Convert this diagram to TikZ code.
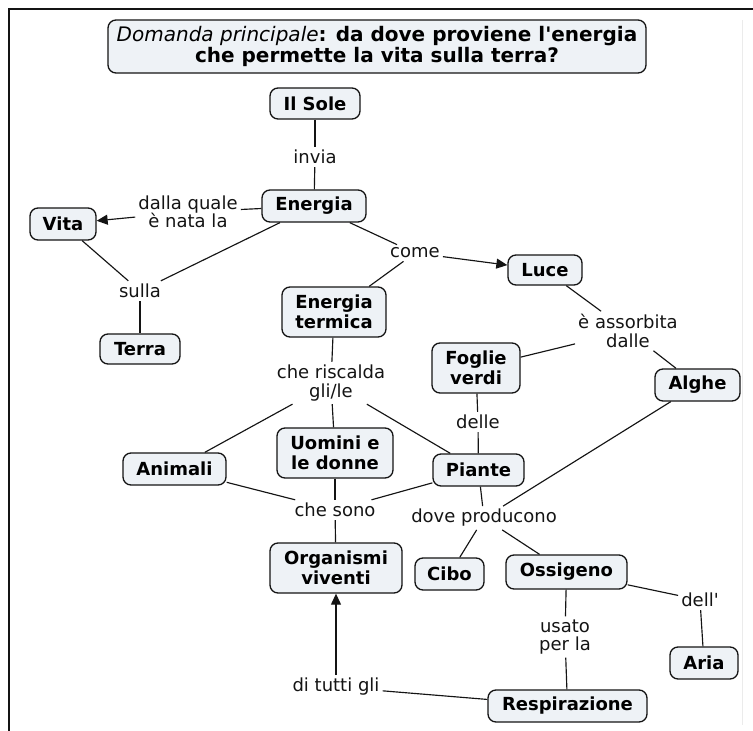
\documentclass[tikz,border=0pt]{standalone}
\usepackage{fontspec}
\newfontfamily\dv{DejaVu Sans}
\usetikzlibrary{arrows.meta}
\definecolor{boxfill}{RGB}{238,242,246}
\definecolor{ink}{RGB}{20,20,20}

\begin{document}
\begin{tikzpicture}[x=1pt,y=-1pt,
  concept/.style={draw=ink, fill=boxfill, rounded corners=8pt, line width=1.3pt,
    align=center, inner sep=0pt, text=black,
    font=\dv\bfseries\fontsize{18}{20}\selectfont},
  link/.style={align=center, inner sep=3pt, text=ink,
    font=\dv\fontsize{18}{18.5}\selectfont},
  conn/.style={draw=ink, line width=1.15pt},
  arr/.style={conn, -{Triangle[length=11pt,width=10pt]}},
]
\useasboundingbox (0,0) rectangle (753,731);

% page frame
\draw[ink, line width=2.5pt] (9,731) -- (9,9) -- (753,9);
\draw[black!8, line width=0.8pt] (742,20) -- (742,725);

% main question
\node[concept, minimum width=538pt, minimum height=53pt,
      font=\dv\bfseries\fontsize{20}{20.5}\selectfont] (title) at (377,46.5)
  {{\mdseries\itshape Domanda principale}: da dove proviene l'energia\\che permette la vita sulla terra?};

% concepts
\node[concept, minimum width=90pt,  minimum height=31pt] (sole)         at (315,103.5) {Il Sole};
\node[concept, minimum width=104pt, minimum height=32pt] (energia)      at (314,206)   {Energia};
\node[concept, minimum width=66pt,  minimum height=32pt] (vita)         at (63,224)    {Vita};
\node[concept, minimum width=80pt,  minimum height=30pt] (terra)        at (140,349)   {Terra};
\node[concept, minimum width=74pt,  minimum height=30pt] (luce)         at (545,270)   {Luce};
\node[concept, minimum width=104pt, minimum height=50pt] (etermica)     at (334,312)   {Energia\\termica};
\node[concept, minimum width=88pt,  minimum height=50pt] (foglie)       at (476,368)   {Foglie\\verdi};
\node[concept, minimum width=85pt,  minimum height=32pt] (alghe)        at (697.5,385) {Alghe};
\node[concept, minimum width=103pt, minimum height=32pt] (animali)      at (174.5,469) {Animali};
\node[concept, minimum width=116pt, minimum height=50pt] (uomini)       at (335,453)   {Uomini e\\le donne};
\node[concept, minimum width=91pt,  minimum height=32pt] (piante)       at (478.5,470) {Piante};
\node[concept, minimum width=132pt, minimum height=50pt] (organismi)    at (336,568)   {Organismi\\viventi};
\node[concept, minimum width=69pt,  minimum height=32pt] (cibo)         at (449.5,574) {Cibo};
\node[concept, minimum width=121pt, minimum height=34pt] (ossigeno)     at (566.5,572) {Ossigeno};
\node[concept, minimum width=68pt,  minimum height=32pt] (aria)         at (704,663)   {Aria};
\node[concept, minimum width=159pt, minimum height=32pt] (respirazione) at (567.5,706) {Respirazione};

% linking phrases
\node[link] (invia)     at (315,157) {invia};
\node[link] (dalla)     at (188,212) {dalla quale\\è nata la};
\node[link] (sulla)     at (140,291) {sulla};
\node[link] (come)      at (415,253) {come};
\node[link] (assorbita) at (628,331) {è assorbita\\dalle};
\node[link] (riscalda)  at (331,383) {che riscalda\\gli/le};
\node[link] (delle)     at (478,422) {delle};
\node[link] (chesono)   at (335,510) {che sono};
\node[link] (dove)      at (484,518) {dove producono};
\node[link] (dell)      at (700,600) {dell'};
\node[link] (usato)     at (565,637) {usato\\per la};
\node[link] (ditutti)   at (336,687) {di tutti gli};

% connectors
\draw[conn] (sole) -- (invia);
\draw[conn] (invia) -- (energia);
\draw[conn] (energia) -- (dalla);
\draw[arr]  (dalla) -- (vita);
\draw[conn] (energia) -- (sulla);
\draw[conn] (vita) -- (sulla);
\draw[conn] (sulla) -- (terra);
\draw[conn] (energia) -- (come);
\draw[arr]  (come) -- (luce);
\draw[conn] (come) -- (etermica);
\draw[conn] (luce) -- (assorbita);
\draw[conn] (assorbita) -- (foglie);
\draw[conn] (assorbita) -- (alghe);
\draw[conn] (foglie) -- (delle);
\draw[conn] (delle) -- (piante);
\draw[conn] (etermica) -- (riscalda);
\draw[conn] (riscalda) -- (animali);
\draw[conn] (riscalda) -- (uomini);
\draw[conn] (riscalda) -- (piante);
\draw[conn] (animali) -- (chesono);
\draw[conn] (uomini) -- (chesono);
\draw[conn] (piante) -- (chesono);
\draw[conn] (chesono) -- (organismi);
\draw[conn] (piante) -- (dove);
\draw[conn] (alghe) -- (dove);
\draw[conn] (dove) -- (cibo);
\draw[conn] (dove) -- (ossigeno);
\draw[conn] (ossigeno) -- (dell);
\draw[conn] (dell) -- (aria);
\draw[conn] (ossigeno) -- (usato);
\draw[conn] (usato) -- (respirazione);
\draw[conn] (respirazione) -- (ditutti);
\draw[arr]  (ditutti) -- (organismi);
\end{tikzpicture}
\end{document}
